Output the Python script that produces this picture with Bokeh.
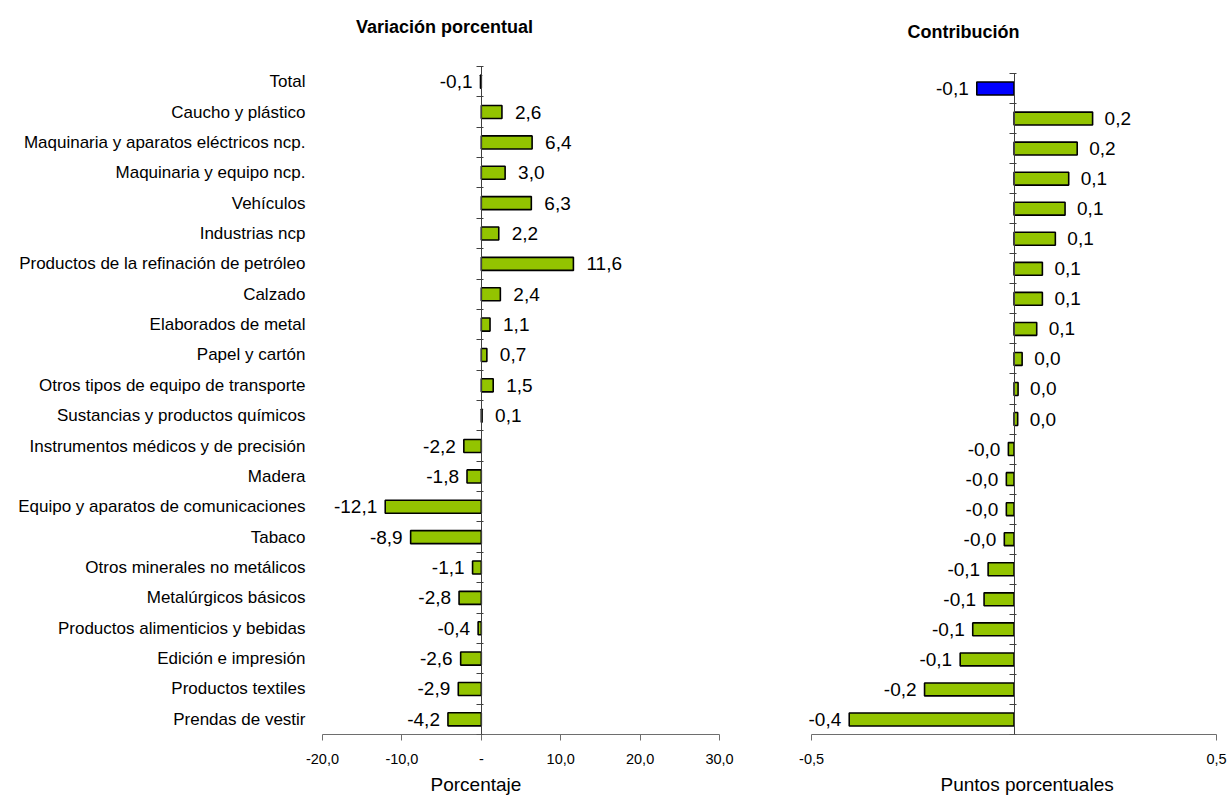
from bokeh.plotting import figure
from bokeh.layouts import row, column
from bokeh.models import ColumnDataSource, LinearAxis, FixedTicker, Range1d, Title, Label
from bokeh.embed import file_html
from bokeh.resources import INLINE

categories = [
    "Total",
    "Caucho y plástico",
    "Maquinaria y aparatos eléctricos ncp.",
    "Maquinaria y equipo ncp.",
    "Vehículos",
    "Industrias ncp",
    "Productos de la refinación de petróleo",
    "Calzado",
    "Elaborados de metal",
    "Papel y cartón",
    "Otros tipos de equipo de transporte",
    "Sustancias y productos químicos",
    "Instrumentos médicos y de precisión",
    "Madera",
    "Equipo y aparatos de comunicaciones",
    "Tabaco",
    "Otros minerales no metálicos",
    "Metalúrgicos básicos",
    "Productos alimenticios y bebidas",
    "Edición e impresión",
    "Productos textiles",
    "Prendas de vestir",
]
variacion = [-0.1, 2.6, 6.4, 3.0, 6.3, 2.2, 11.6, 2.4, 1.1, 0.7, 1.5, 0.1,
             -2.2, -1.8, -12.1, -8.9, -1.1, -2.8, -0.4, -2.6, -2.9, -4.2]
contribucion = [-0.092, 0.194, 0.156, 0.135, 0.126, 0.102, 0.070, 0.070, 0.056, 0.020,
                0.010, 0.009, -0.014, -0.019, -0.019, -0.024, -0.064, -0.074, -0.102,
                -0.133, -0.221, -0.407]
left_ticks = [-20, -10, 0, 10, 20, 30]
left_tick_labels = ["-20,0", "-10,0", "-", "10,0", "20,0", "30,0"]
right_ticks = [-0.5, 0.5]
right_tick_labels = ["-0,5", "0,5"]

FONT = "Liberation Sans"
GREEN = "#93C400"
BLUE = "#0000FF"
AXIS = "#404040"
XAXIS = "#6E6E6E"
H = 802
FRAME_BOTTOM = 734          # pixel row of the category axis baseline
MB_BOTTOM = H - FRAME_BOTTOM

n = len(categories)
ypos = [n - 0.5 - i for i in range(n)]
bounds = [float(b) for b in range(n + 1)]


def fmt(v):
    return f"{v:.1f}".replace(".", ",")


def make_fig(vals, xr, axis_bounds, ticks, tick_labels, width, mbl, mbr, top_px,
             show_cats, pos_off, neg_off):
    # frame spans from canvas top to FRAME_BOTTOM; bar area starts at top_px
    y_hi = n * FRAME_BOTTOM / (FRAME_BOTTOM - top_px)
    p = figure(width=width, height=H, x_range=Range1d(*xr), y_range=Range1d(0, y_hi),
               output_backend="svg", toolbar_location=None,
               y_axis_location="left" if show_cats else None,
               min_border_left=mbl, min_border_right=mbr,
               min_border_top=0, min_border_bottom=MB_BOTTOM)
    p.grid.visible = False
    p.outline_line_color = None
    p.background_fill_color = "white"
    p.border_fill_color = "white"

    colors = [BLUE if i == 0 else GREEN for i in range(n)]
    src = ColumnDataSource(dict(y=ypos, right=vals, color=colors))
    p.hbar(y="y", left=0, right="right", height=0.43, fill_color="color",
           line_color="black", line_width=1.6, source=src)

    pos = [(v, y) for v, y in zip(vals, ypos) if v >= 0]
    neg = [(v, y) for v, y in zip(vals, ypos) if v < 0]
    psrc = ColumnDataSource(dict(x=[a for a, _ in pos], y=[b for _, b in pos],
                                 t=[fmt(a) for a, _ in pos]))
    nsrc = ColumnDataSource(dict(x=[a for a, _ in neg], y=[b for _, b in neg],
                                 t=[fmt(a) for a, _ in neg]))
    p.text(x="x", y="y", text="t", source=psrc, x_offset=pos_off,
           text_align="left", text_baseline="middle",
           text_font={"value": FONT}, text_font_size="19px", text_color="black")
    p.text(x="x", y="y", text="t", source=nsrc, x_offset=-neg_off,
           text_align="right", text_baseline="middle",
           text_font={"value": FONT}, text_font_size="19px", text_color="black")

    # bottom axis
    xa = p.xaxis[0]
    xa.ticker = FixedTicker(ticks=ticks)
    xa.bounds = axis_bounds
    xa.major_label_overrides = {t: l for t, l in zip(ticks, tick_labels)}
    xa.minor_tick_line_color = None
    xa.major_tick_out = 6
    xa.major_tick_in = 0
    xa.axis_line_color = XAXIS
    xa.major_tick_line_color = XAXIS
    xa.major_label_text_font = FONT
    xa.major_label_text_font_size = "14.5px"
    xa.major_label_text_color = "black"
    xa.major_label_standoff = 13

    if show_cats:
        ya = p.yaxis[0]
        ya.ticker = FixedTicker(ticks=ypos)
        ya.major_label_overrides = {y: c for y, c in zip(ypos, categories)}
        ya.axis_line_color = None
        ya.major_tick_line_color = None
        ya.minor_tick_line_color = None
        ya.major_label_standoff = 11
        ya.major_label_text_font = FONT
        ya.major_label_text_font_size = "17px"
        ya.major_label_text_color = "black"
        side = "right"
        tin, tout = 5, 2
    else:
        side = "left"
        tin, tout = 2, 5

    za = LinearAxis(fixed_location=0, ticker=FixedTicker(ticks=bounds),
                    bounds=(0, n),
                    major_label_overrides={b: "" for b in bounds},
                    major_label_text_color=None, major_label_standoff=0,
                    major_tick_in=tin, major_tick_out=tout,
                    axis_line_color=AXIS, major_tick_line_color=AXIS,
                    minor_tick_line_color=None)
    p.add_layout(za, side)
    return p


p1 = make_fig(variacion, (-20, 30), (-20, 30), left_ticks, left_tick_labels,
              width=780, mbl=322, mbr=61, top_px=66,
              show_cats=True, pos_off=13, neg_off=8)
p2 = make_fig(contribucion, (-0.515, 0.5), (-0.5, 0.5), right_ticks, right_tick_labels,
              width=450, mbl=25, mbr=14, top_px=73,
              show_cats=False, pos_off=12, neg_off=8)

# chart titles, placed inside the (extended) frames, in screen units
p1.add_layout(Label(x=122, y=FRAME_BOTTOM - 26, x_units="screen", y_units="screen",
                    text="Variación porcentual", text_align="center",
                    text_baseline="middle", text_font=FONT, text_font_style="bold",
                    text_font_size="18px", text_color="black"))
p2.add_layout(Label(x=158, y=FRAME_BOTTOM - 31, x_units="screen", y_units="screen",
                    text="Contribución", text_align="center",
                    text_baseline="middle", text_font=FONT, text_font_style="bold",
                    text_font_size="18px", text_color="black"))

# axis titles below the x axes
p1.add_layout(Title(text="Porcentaje", align="left", offset=108,
                    standoff=10, text_font=FONT, text_font_style="normal",
                    text_font_size="19px", text_color="black"), "below")
p2.add_layout(Title(text="Puntos porcentuales", align="left", offset=135,
                    standoff=10, text_font=FONT, text_font_style="normal",
                    text_font_size="19px", text_color="black"), "below")

layout = row(column(p1), column(p2))
open("out.html", "w").write(file_html(layout, INLINE))
